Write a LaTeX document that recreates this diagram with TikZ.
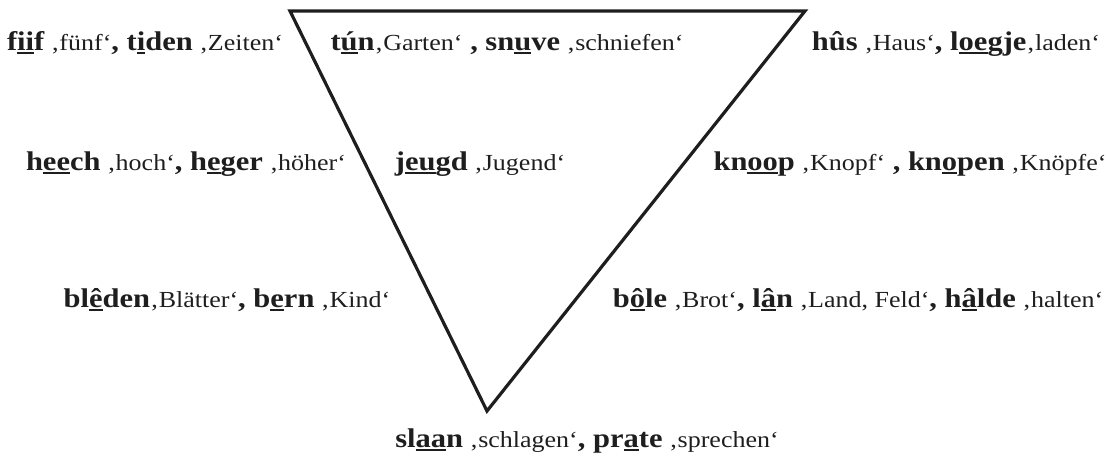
\documentclass[tikz,border=0pt]{standalone}
\usepackage{fontspec}
\setmainfont[FakeStretch=1.13]{Liberation Serif}
\definecolor{ink}{HTML}{1E1E1E}
\newcommand\ul[1]{\setbox0\hbox{#1}\rlap{\rule[-3.6pt]{\wd0}{1.6pt}}\box0}
\newcommand\bw[1]{{\fontsize{27}{30}\selectfont\bfseries #1}}
\newcommand\gl[1]{{\fontsize{23}{26}\selectfont #1}}
\tikzset{
  lbl/.style={inner sep=0pt, anchor=base, text=ink, font=\fontsize{23}{26}\selectfont},
  tri/.style={draw=ink, line width=3.2pt, line join=miter}
}
\begin{document}
\begin{tikzpicture}[x=1pt,y=-1pt]
\useasboundingbox (0,0) rectangle (1108,455);
\coordinate (tl) at (290,11);
\coordinate (tr) at (805,11);
\coordinate (bt) at (487,411);
\draw[tri] (tl) -- (tr) -- (bt) -- cycle;
\node[lbl] (r1a) at (145,50) {\bw{f\ul{ii}f} \gl{‚fünf‘}\bw{, t\ul{i}den} \gl{‚Zeiten‘}};
\node[lbl] (r1b) at (507,50) {\bw{t\ul{ú}n}\gl{‚Garten‘}\bw{ , sn\ul{u}ve} \gl{‚schniefen‘}};
\node[lbl] (r1c) at (956,50) {\bw{hûs} \gl{‚Haus‘}\bw{, l\ul{oe}gje}\gl{‚laden‘}};
\node[lbl] (r2a) at (186,170) {\bw{h\ul{ee}ch} \gl{‚hoch‘}\bw{, h\ul{e}ger} \gl{‚höher‘}};
\node[lbl] (r2b) at (480,170) {\bw{j\ul{eu}gd} \gl{‚Jugend‘}};
\node[lbl] (r2c) at (910,170) {\bw{kn\ul{oo}p} \gl{‚Knopf‘}\bw{ , kn\ul{o}pen} \gl{‚Knöpfe‘}};
\node[lbl] (r3a) at (227,307) {\bw{bl\ul{ê}den}\gl{‚Blätter‘}\bw{, b\ul{e}rn} \gl{‚Kind‘}};
\node[lbl] (r3b) at (858,307) {\bw{b\ul{ô}le} \gl{‚Brot‘}\bw{, l\ul{â}n} \gl{‚Land, Feld‘}\bw{, h\ul{â}lde} \gl{‚halten‘}};
\node[lbl] (r4) at (587,447) {\bw{sl\ul{aa}n} \gl{‚schlagen‘}\bw{, pr\ul{a}te} \gl{‚sprechen‘}};
\end{tikzpicture}
\end{document}
